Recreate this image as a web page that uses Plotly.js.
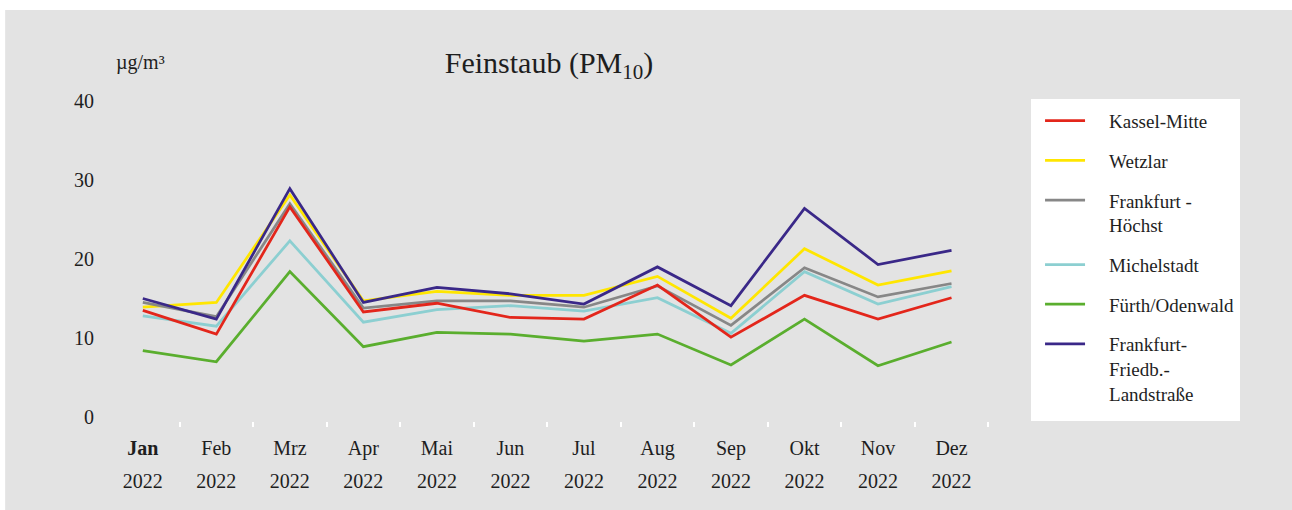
<!DOCTYPE html>
<html>
<head>
<meta charset="utf-8">
<script src="https://cdn.plot.ly/plotly-3.0.1.min.js"></script>
<style>html,body{margin:0;padding:0;background:#fff;}#chart{width:1292px;height:510px;}</style>
</head>
<body>
<div id="chart"></div>
<script>
const months = ["Jan","Feb","Mrz","Apr","Mai","Jun","Jul","Aug","Sep","Okt","Nov","Dez"];
const monthLabels = ["<b>Jan</b>","Feb","Mrz","Apr","Mai","Jun","Jul","Aug","Sep","Okt","Nov","Dez"];
const yearLabels = ["2022","2022","2022","2022","2022","2022","2022","2022","2022","2022","2022","2022"];

const kasselMitte   = [13.5, 10.5, 26.6, 13.3, 14.4, 12.6, 12.4, 16.7, 10.1, 15.4, 12.4, 15.1];
const wetzlar       = [13.9, 14.5, 28.1, 14.7, 15.9, 15.4, 15.4, 17.8, 12.5, 21.3, 16.7, 18.5];
const ffmHoechst    = [14.5, 12.7, 27.0, 13.8, 14.7, 14.7, 13.9, 16.6, 11.6, 18.9, 15.2, 16.9];
const michelstadt   = [12.8, 11.5, 22.3, 12.0, 13.6, 14.1, 13.4, 15.1, 10.6, 18.4, 14.3, 16.5];
const fuerth        = [8.4, 7.0, 18.4, 8.9, 10.7, 10.5, 9.6, 10.5, 6.6, 12.4, 6.5, 9.5];
const ffmFriedberg  = [15.0, 12.4, 28.9, 14.5, 16.4, 15.6, 14.3, 19.0, 14.1, 26.4, 19.3, 21.1];

const yTicks = [0, 10, 20, 30, 40];
const gridValues = [10, 20, 30];

const seriesNames = [
  ["Kassel-Mitte"],
  ["Wetzlar"],
  ["Frankfurt -", "Höchst"],
  ["Michelstadt"],
  ["Fürth/Odenwald"],
  ["Frankfurt-", "Friedb.-", "Landstraße"]
];
const seriesValues = [kasselMitte, wetzlar, ffmHoechst, michelstadt, fuerth, ffmFriedberg];
const seriesColors = ["#e3261b", "#ffe600", "#878787", "#8ccfd1", "#5aae2e", "#3a2888"];
const drawOrder = [1, 2, 3, 4, 0, 5];

const font = "Liberation Serif, Times New Roman, serif";
const txt = "#1e1e1e";
const indent = "\u00a0\u00a0\u00a0\u00a0";

const traces = drawOrder.map(i => ({
  type: "scatter",
  mode: "lines",
  x: months,
  y: seriesValues[i],
  name: seriesNames[i].map(s => indent + s).join("<br>"),
  legendrank: i + 1,
  legendgroup: "g" + i,
  line: {color: seriesColors[i], width: 2.75},
  hoverinfo: "x+y"
}));

// carrier for the year row of the category axis (no visible marks)
traces.push({
  type: "scatter", mode: "none",
  x: months.map((m, i) => i), y: months.map(() => null),
  xaxis: "x2", yaxis: "y", showlegend: false, hoverinfo: "skip"
});

const shapes = [
  {type: "rect", xref: "paper", yref: "paper", x0: -0.118, x1: 1.36, y0: -0.3, y1: 1.2764, fillcolor: "#e3e3e3", line: {width: 0}, layer: "below"},
  {type: "rect", xref: "paper", yref: "paper", x0: 1.0477, x1: 1.2852, y0: 0, y1: 1, fillcolor: "#ffffff", line: {width: 0}, layer: "below"}
].concat(gridValues.map(v => ({
  type: "line", xref: "paper", yref: "y", x0: 0, x1: 1, y0: v, y1: v,
  line: {color: "#e3e3e3", width: 3}, layer: "below"
})));

const layout = {
  width: 1292, height: 510,
  margin: {l: 109, r: 303, t: 99, b: 89},
  paper_bgcolor: "#ffffff",
  plot_bgcolor: "#ffffff",
  font: {family: font, color: txt, size: 20},
  title: {
    text: "Feinstaub (PM<sub>10</sub>)",
    font: {family: font, size: 30, color: txt},
    x: 0.5, xref: "paper", xanchor: "center",
    y: 0.878, yref: "container", yanchor: "middle"
  },
  xaxis: {
    type: "category",
    range: [-0.46, 11.51],
    tickmode: "array", tickvals: months, ticktext: monthLabels,
    tickson: "boundaries",
    ticks: "outside", ticklen: 5, tickwidth: 2, tickcolor: "#ffffff",
    showgrid: false, zeroline: false, showline: false,
    ticklabelstandoff: 13,
    tickfont: {family: font, size: 20, color: txt},
    fixedrange: true
  },
  xaxis2: {
    type: "linear",
    overlaying: "x",
    anchor: "y",
    side: "bottom",
    range: [-0.46, 11.51],
    tickmode: "array", tickvals: months.map((m, i) => i), ticktext: yearLabels,
    ticks: "", showgrid: false, zeroline: false, showline: false,
    ticklabelstandoff: 46,
    tickfont: {family: font, size: 20, color: txt},
    fixedrange: true
  },
  yaxis: {
    range: [-0.5, 40.25],
    tickmode: "array", tickvals: yTicks,
    ticks: "", showgrid: false, zeroline: false, showline: false,
    ticklabelstandoff: 14,
    tickfont: {family: font, size: 20, color: txt},
    fixedrange: true
  },
  showlegend: true,
  legend: {
    x: 1.058, xanchor: "left", xref: "paper",
    y: 0.991, yanchor: "top", yref: "paper",
    bgcolor: "rgba(0,0,0,0)",
    font: {family: font, size: 19, color: txt},
    itemwidth: 40,
    valign: "top",
    tracegroupgap: 12,
    traceorder: "grouped"
  },
  shapes: shapes,
  annotations: [
    {text: "µg/m³", xref: "paper", yref: "paper", x: (114 - 109) / 880, y: (421 - 62) / 322,
     xanchor: "left", yanchor: "middle", showarrow: false,
     font: {family: font, size: 20, color: txt}}
  ]
};

Plotly.newPlot("chart", traces, layout, {displayModeBar: false, responsive: false});
</script>
</body>
</html>
